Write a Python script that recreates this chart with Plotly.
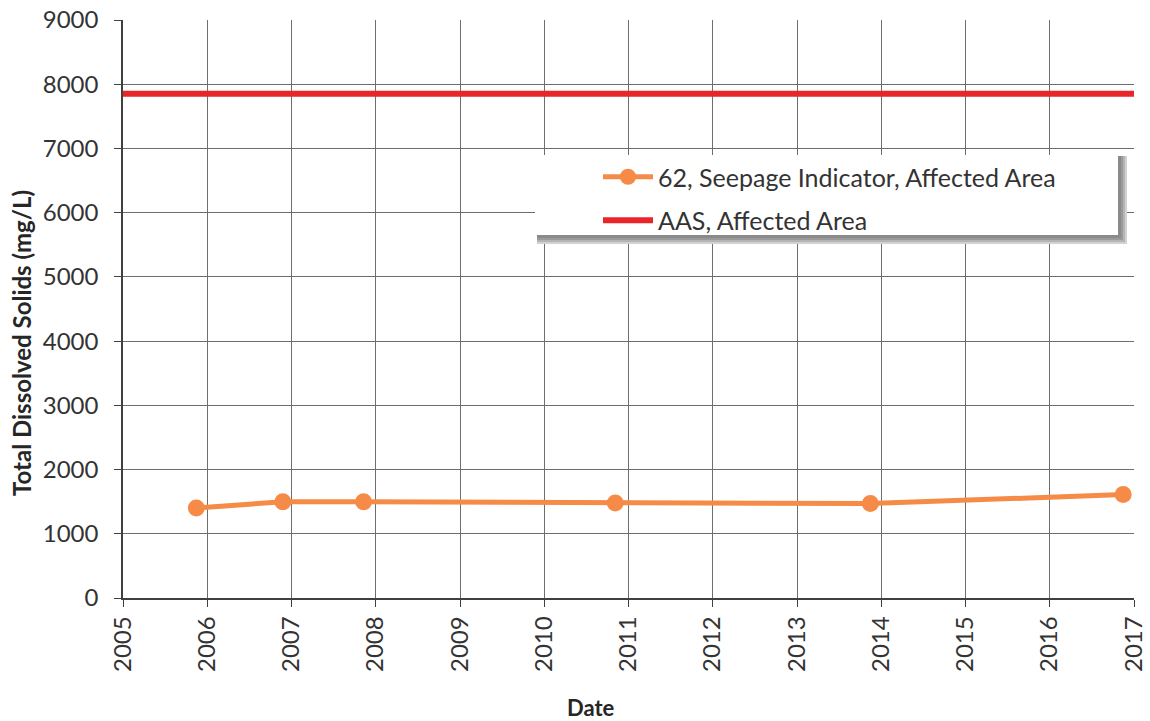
import plotly.graph_objects as go

# Monitoring well 62 - total dissolved solids samples
sample_dates = ["2005-11-15", "2006-11-25", "2007-11-10", "2010-11-05", "2013-11-15", "2016-11-15"]
tds_values = [1400, 1500, 1500, 1480, 1470, 1610]

# Affected-area standard (AAS), constant across the record
aas_dates = ["2005-01-01", "2017-01-01"]
aas_values = [7850, 7850]

y_ticks = list(range(0, 9001, 1000))

ORANGE = "#F58B47"
RED = "#E8262A"
GRID = "#6e6e6e"
FONT = "Lato"

fig = go.Figure()

fig.add_trace(go.Scatter(
    x=sample_dates, y=tds_values, mode="lines+markers",
    name="62, Seepage Indicator, Affected Area", legendgroup="a",
    line=dict(color=ORANGE, width=5),
    marker=dict(color=ORANGE, size=17),
))
fig.add_trace(go.Scatter(
    x=aas_dates, y=aas_values, mode="lines",
    name="AAS, Affected Area", legendgroup="b",
    line=dict(color=RED, width=6),
))

# Legend panel with a soft drop shadow
L, R, T, B = 535, 1118, 155, 235
ML, MR, MT, MB = 123, 16, 20, 123
PW, PH = 1150 - ML - MR, 721 - MT - MB


def px(xp):
    return (xp - ML) / PW


def py(yp):
    return (721 - MB - yp) / PH


shapes = []
for off, col in [(9, "#d2d2d2"), (7, "#b4b4b4"), (5, "#9a9a9a"), (3, "#8a8a8a")]:
    shapes.append(dict(type="rect", xref="paper", yref="paper", layer="above",
                       x0=px(L + 2), x1=px(R + off), y0=py(B + off), y1=py(T + 1),
                       fillcolor=col, line=dict(width=0)))
shapes.append(dict(type="rect", xref="paper", yref="paper", layer="above",
                   x0=px(L), x1=px(R), y0=py(B), y1=py(T),
                   fillcolor="white", line=dict(width=0)))

fig.update_layout(
    width=1150, height=721,
    margin=dict(l=ML, r=MR, t=MT, b=MB),
    paper_bgcolor="white", plot_bgcolor="white",
    font=dict(family=FONT, color="#333333"),
    shapes=shapes,
    showlegend=True,
    legend=dict(
        x=px(598), y=py(154), xanchor="left", yanchor="top",
        bgcolor="rgba(0,0,0,0)", borderwidth=0,
        font=dict(family=FONT, size=25, color="#333333"),
        itemwidth=50, traceorder="grouped", tracegroupgap=8,
    ),
    xaxis=dict(
        type="date", range=["2005-01-01", "2017-01-01"],
        dtick="M12", tick0="2005-01-01", tickformat="%Y",
        tickangle=-90, tickfont=dict(size=24, color="#333333"),
        showgrid=True, gridcolor=GRID, gridwidth=1,
        showline=True, linecolor="#404040", linewidth=1.5, mirror=False,
        ticks="outside", ticklen=7, tickcolor="#404040",
        zeroline=False, automargin=False,
    ),
    yaxis=dict(
        range=[0, 9000], tickvals=y_ticks,
        tickfont=dict(size=24, color="#333333"),
        showgrid=True, gridcolor=GRID, gridwidth=1,
        showline=True, linecolor="#404040", linewidth=1.5,
        ticks="outside", ticklen=7, tickcolor="#404040",
        ticklabelstandoff=11,
        zeroline=False, automargin=False,
    ),
    annotations=[
        dict(text="<b>Total Dissolved Solids (mg/L)</b>", textangle=-90,
             xref="paper", yref="paper", x=px(21), y=py(343),
             xanchor="center", yanchor="middle", showarrow=False,
             font=dict(family=FONT, size=24, color="#262626")),
        dict(text="<b>Date</b>", xref="paper", yref="paper",
             x=px(591), y=py(707), xanchor="center", yanchor="middle",
             showarrow=False, font=dict(family=FONT, size=22, color="#262626")),
    ],
)

fig.write_html("out.html")
